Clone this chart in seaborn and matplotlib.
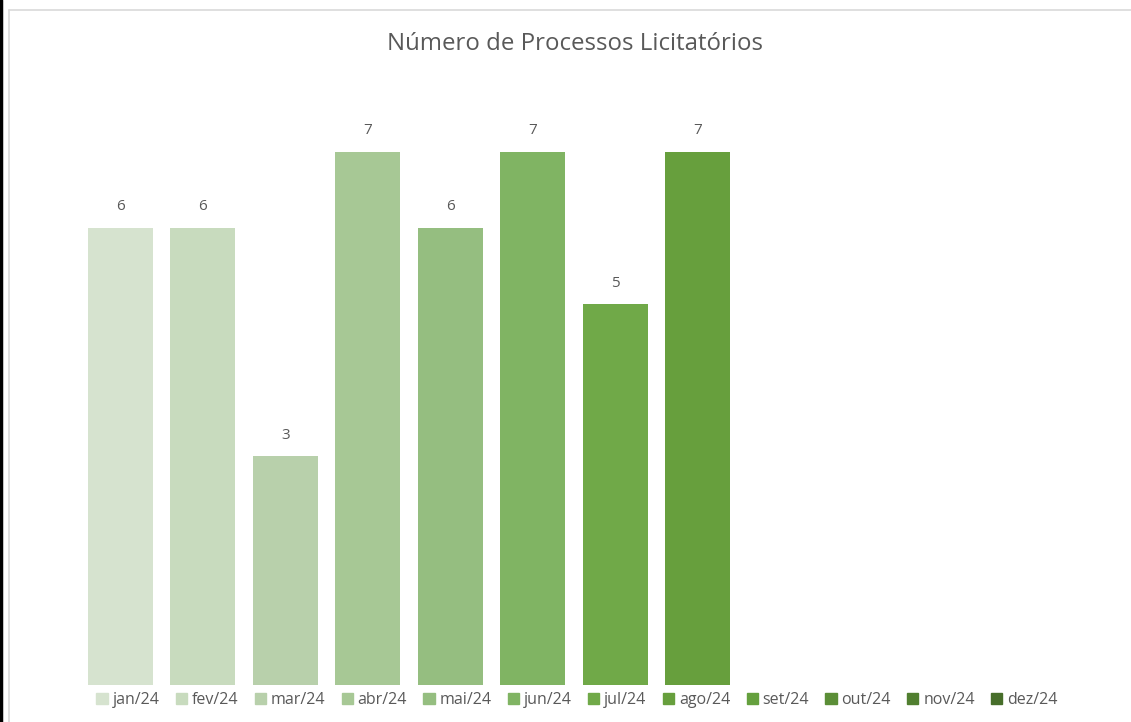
import numpy as np
import pandas as pd
import matplotlib
matplotlib.use("Agg")
import matplotlib.pyplot as plt
import seaborn as sns
from matplotlib.patches import Rectangle

# Data
months = ["jan/24", "fev/24", "mar/24", "abr/24", "mai/24", "jun/24",
          "jul/24", "ago/24", "set/24", "out/24", "nov/24", "dez/24"]
processos = [6, 6, 3, 7, 6, 7, 5, 7, np.nan, np.nan, np.nan, np.nan]
cores = ["#D6E3CF", "#C8DBBE", "#B8D0AB", "#A7C895", "#95BE80", "#80B463",
         "#70A948", "#679F3D", "#65A03E", "#5B8E37", "#517F30", "#476E2A"]

df = pd.DataFrame({"mes": months, "valor": processos})

sns.set_theme(style="white")
plt.rcParams["font.family"] = ["Open Sans", "DejaVu Sans"]
text_color = "#595959"

fig = plt.figure(figsize=(11.31, 7.22), dpi=100)
ax = fig.add_axes([79 / 1131, 37 / 722, 990 / 1131, 609.6 / 722])

sns.barplot(data=df, x="mes", y="valor", hue="mes", order=months,
            hue_order=months, palette=cores, dodge=False, width=0.79,
            saturation=1, linewidth=0, legend=False, ax=ax)

# value labels above bars
for i, v in enumerate(processos):
    if not np.isnan(v):
        ax.annotate(f"{int(v)}", (i, v), xytext=(0, 15), textcoords="offset points",
                    ha="center", va="center", fontsize=11, color=text_color)

ax.set_ylim(0, 8)
ax.set_xlim(-0.5, len(months) - 0.5)
ax.set_xticks([])
ax.set_yticks([])
ax.set_xlabel("")
ax.set_ylabel("")
for s in ax.spines.values():
    s.set_visible(False)

# legend with every month
handles = [Rectangle((0, 0), 1, 1, color=c) for c in cores]
fig.legend(handles, months, loc="center", bbox_to_anchor=(577 / 1131, 22 / 722),
           ncol=12, frameon=False, fontsize=11.5, handlelength=0.7,
           handleheight=0.7, handletextpad=0.3, columnspacing=1.03,
           labelcolor=text_color)

fig.suptitle("Número de Processos Licitatórios", x=575 / 1131, y=1 - 44 / 722,
             va="center", fontsize=17.3, color=text_color)

# outer frame lines
fig.add_artist(plt.Line2D([1 / 1131, 1 / 1131], [0, 1], color="black", lw=2.5))
fig.add_artist(plt.Line2D([9 / 1131, 9 / 1131], [0, 1 - 10 / 722], color="#D9D9D9", lw=1.2))
fig.add_artist(plt.Line2D([9 / 1131, 1], [1 - 10 / 722, 1 - 10 / 722], color="#D9D9D9", lw=1.2))

fig.savefig("out.png", dpi=100)
